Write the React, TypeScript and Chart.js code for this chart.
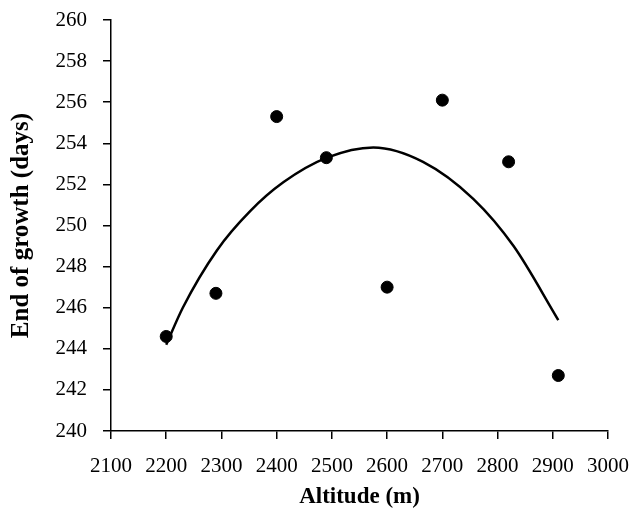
import React, { useEffect, useRef } from "react";
import { Chart, registerables } from "chart.js";

Chart.register(...registerables);

const altitude = [2200, 2290, 2400, 2490, 2600, 2700, 2820, 2910];
const endOfGrowth = [244.6, 246.7, 255.3, 253.3, 247.0, 256.1, 253.1, 242.7];

const trendAltitude = [2200, 2230, 2292, 2352, 2412, 2491, 2575, 2665, 2756, 2829, 2910];
const trendValue = [244.2, 246.0, 248.8, 250.7, 252.1, 253.3, 253.8, 253.1, 251.3, 249.0, 245.4];

const xTicks = { min: 2100, max: 3000, step: 100 };
const yTicks = { min: 240, max: 260, step: 2 };

const FONT = "'Liberation Serif', 'Times New Roman', serif";

export default function App() {
  const ref = useRef<HTMLCanvasElement | null>(null);

  useEffect(() => {
    if (!ref.current) return;
    const chart = new Chart(ref.current, {
      type: "scatter",
      data: {
        datasets: [
          {
            type: "scatter",
            label: "Observed",
            data: altitude.map((x, i) => ({ x, y: endOfGrowth[i] })),
            backgroundColor: "#000",
            borderColor: "#000",
            pointRadius: 6,
            pointHoverRadius: 6,
            order: 1,
          },
          {
            type: "line",
            label: "Trend",
            data: trendAltitude.map((x, i) => ({ x, y: trendValue[i] })),
            borderColor: "#000",
            borderWidth: 2.5,
            pointRadius: 0,
            fill: false,
            cubicInterpolationMode: "monotone",
            showLine: true,
            order: 2,
          } as any,
        ],
      },
      options: {
        animation: false,
        responsive: false,
        maintainAspectRatio: false,
        layout: { padding: { left: 0, right: 25, top: 20, bottom: 0 } },
        plugins: {
          legend: { display: false },
          tooltip: { enabled: false },
        },
        scales: {
          x: {
            type: "linear",
            min: xTicks.min,
            max: xTicks.max,
            afterFit: (s: any) => {
              s.height = 84;
              s.paddingLeft = 0;
              s.paddingRight = 0;
            },
            ticks: {
              stepSize: xTicks.step,
              color: "#000",
              padding: 15,
              font: { family: FONT, size: 21 },
              callback: (v: any) => String(v),
            },
            grid: {
              drawOnChartArea: false,
              drawTicks: true,
              tickLength: 8,
              color: "#000",
              lineWidth: 1.5,
            },
            border: { color: "#000", width: 1.5 },
            title: {
              display: true,
              text: "Altitude (m)",
              color: "#000",
              font: { family: FONT, size: 23, weight: "bold" },
              padding: { top: 0, bottom: 4 },
            },
          },
          y: {
            type: "linear",
            min: yTicks.min,
            max: yTicks.max,
            afterFit: (s: any) => {
              s.width = 111;
              s.paddingTop = 0;
              s.paddingBottom = 0;
            },
            ticks: {
              stepSize: yTicks.step,
              color: "#000",
              padding: 16,
              font: { family: FONT, size: 21 },
              callback: (v: any) => String(v),
            },
            grid: {
              drawOnChartArea: false,
              drawTicks: true,
              tickLength: 8,
              color: "#000",
              lineWidth: 1.5,
            },
            border: { color: "#000", width: 1.5 },
            title: {
              display: true,
              text: "End of growth (days)",
              color: "#000",
              font: { family: FONT, size: 25, weight: "bold" },
              padding: { top: 7, bottom: 0 },
            },
          },
        },
      },
    });
    return () => chart.destroy();
  }, []);

  return (
    <div style={{ position: "absolute", left: 0, top: 0, width: 633, height: 515, background: "#fff" }}>
      <canvas ref={ref} width={633} height={515} style={{ width: 633, height: 515 }} />
    </div>
  );
}
